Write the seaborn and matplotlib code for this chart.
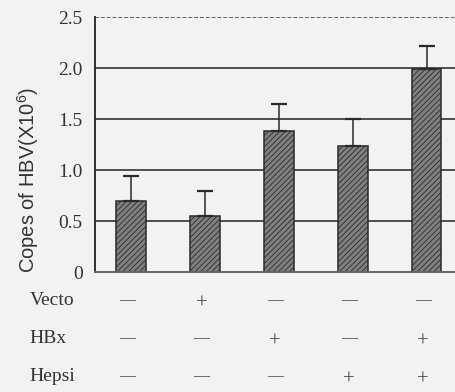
import numpy as np
import pandas as pd
import matplotlib
matplotlib.use("Agg")
import matplotlib.pyplot as plt
import seaborn as sns

groups = ["G1", "G2", "G3", "G4", "G5"]
copies = [0.70, 0.55, 1.385, 1.235, 1.99]
errors = [0.24, 0.24, 0.265, 0.265, 0.23]
row_names = ["Vecto", "HBx", "Hepsi"]
vecto = ["—", "+", "—", "—", "—"]
hbx = ["—", "—", "+", "—", "+"]
hepsi = ["—", "—", "—", "+", "+"]
yticks = [0, 0.5, 1.0, 1.5, 2.0, 2.5]
ytick_labels = ["0", "0.5", "1.0", "1.5", "2.0", "2.5"]

bg = "#f2f2f2"
sns.set_style("white")
plt.rcParams["font.family"] = ["Liberation Serif", "DejaVu Serif"]
plt.rcParams["hatch.color"] = "#b0b0b0"
plt.rcParams["hatch.linewidth"] = 0.6

df = pd.DataFrame({"group": groups, "copies": copies})

fig = plt.figure(figsize=(4.56, 3.92), dpi=100, facecolor=bg)
ax = fig.add_axes([0.2085, 0.306, 0.80, 0.6505])
ax.set_facecolor(bg)

# horizontal grid lines, the top one is grey and broken
for y in yticks[1:-1]:
    ax.axhline(y, color="#222222", lw=1.1, zorder=0)
ax.axhline(yticks[-1], color="#666666", lw=1.4, ls=(0, (2, 1)), zorder=0)

sns.barplot(data=df, x="group", y="copies", ax=ax, width=0.4,
            color="#808080", edgecolor="#2a2a2a", linewidth=1.1,
            hatch="//////", errorbar=None, zorder=2)

x = np.arange(len(groups))
ax.errorbar(x, copies, yerr=[np.zeros(len(errors)), errors], fmt="none",
            ecolor="#2a2a2a", elinewidth=1.1, capsize=5.5, capthick=1.6, zorder=3)

ax.set_xlim(-0.49, 4.45)
ax.set_ylim(0, 2.5)
ax.set_yticks(yticks)
ax.set_yticklabels(ytick_labels, fontsize=14, color="#333333")
ax.tick_params(axis="y", length=0, pad=9)
ax.set_xticks([])
ax.set_xlabel("")
ax.set_ylabel(r"Copes of HBV(X10$\mathregular{^6}$)", fontsize=14.5, color="#333333",
              family=["Liberation Sans", "DejaVu Sans"])
ax.yaxis.set_label_coords(-0.149, 0.36)

for side in ["top", "right"]:
    ax.spines[side].set_visible(False)
ax.spines["left"].set_color("#222222")
ax.spines["left"].set_linewidth(1.3)
ax.spines["bottom"].set_color("#666666")
ax.spines["bottom"].set_linewidth(1.4)
ax.spines["bottom"].set_linestyle((0, (2, 1)))

# condition table under the bars
row_y = [-0.275, -0.647, -1.02]
for name, vals, yy in zip(row_names, [vecto, hbx, hepsi], row_y):
    ax.text(-1.38, yy, name, fontsize=14, color="#333333", va="center", ha="left",
            clip_on=False)
    for xi, v in zip(x, vals):
        if v == "+":
            ax.text(xi - 0.05, yy - 0.04, v, fontsize=15, color="#444444",
                    va="center", ha="center", clip_on=False)
        else:
            ax.text(xi - 0.05, yy, v, fontsize=11.5, color="#444444",
                    va="center", ha="center", clip_on=False)

fig.savefig("out.png", dpi=100, facecolor=bg)
